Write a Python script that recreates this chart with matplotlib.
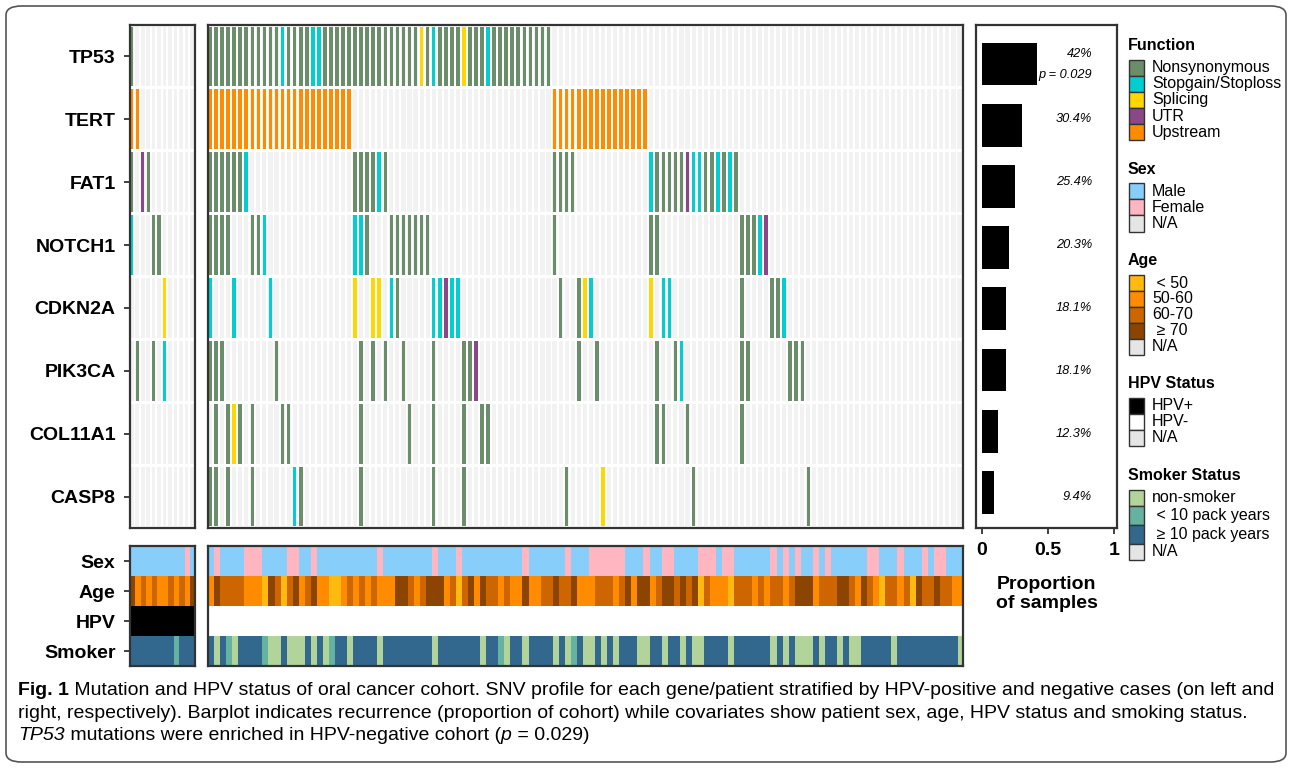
import numpy as np
import matplotlib.pyplot as plt
import matplotlib.transforms as mtransforms
from matplotlib.patches import FancyBboxPatch, Rectangle
from matplotlib.colors import to_rgb

plt.rcParams['font.family'] = ['Liberation Sans', 'DejaVu Sans']

genes = ["TP53", "TERT", "FAT1", "NOTCH1", "CDKN2A", "PIK3CA", "COL11A1", "CASP8"]
proportion = [0.42, 0.304, 0.254, 0.203, 0.181, 0.181, 0.123, 0.094]
prop_text = ["42%\np = 0.029", "30.4%", "25.4%", "20.3%", "18.1%", "18.1%", "12.3%", "9.4%"]

# mutation codes: N nonsynonymous, S stopgain/stoploss, P splicing, R UTR, U upstream, . none
hpv_pos_mut = [
    "N...........",
    "UU..........",
    "N.RN........",
    "S...NN......",
    "......P.....",
    ".N..N.S.....",
    "............",
    "............",
]
hpv_neg_mut = [
    "NNNNNNNNNN NNSNNNNSSN NNNNNNNNNN NNNNNPNSNN NNPNNNSNNN NNNNNNN",
    "UUUUUUUUUU UUUUUUUUUU UUUU...... .......... .......... .......UUU UUUUUUUUUU UUU",
    "NNNNNNS... .......... ....NNNNSN .......... .......... .......NNN N......... ...SNNNNNR SSNNSNSN",
    "NNNN...NNS .......... ....SSN... NNNNNNN... .......... .......N.. .......... ...NN..... ........NN NSR",
    "S...S..... S......... ....P..PP. SN.....SSR SS........ ........N. .NPS...... ...P.SS... ........N. ...NNS",
    "NNN....... .N........ .....N.N.N ..N....N.. ..NNR..... .......... .N..N..... ....N..NS. ........NN ......NNN",
    ".N.NPN.N.. ..NN...... .....N.... ...N...N.. ..N..NN... .......... .......... ....NN...N ........N",
    "NN.N...N.. ....SN.... .....N.... .......N.. ..N....... .........N .....P.... .......... N......... .........N",
]

# covariates: sex M/F, age 1:<50 2:50-60 3:60-70 4:>=70, smoker N non / L <10 / H >=10 pack years
sex_pos = "MMMMMMMMMMFM"
age_pos = "423232232324"
smoke_pos = "HHHHHHHHLHHH"
sex_neg = ("MFMMMMFFFM MMMFFMMFMM MMMMMMMMFM MMMMMMMFMM MFMMMMMMMM MMFMMMMMMF "
           "MMMFFFFFFM MMFMMFFMMM MFFFMFFMMM MMMFMFMFMM FMFMMMMMMF FMMMFMMMFM FFMMM")
age_neg = ("2433332221 4313423422 1123232322 2443234442 3134243323 2242233433 "
           "4222333234 2442344343 4132221333 2323323444 2333443243 2133231433 43322")
smoke_neg = ("HNHLNHHHHL NNHNNNHNHN LHHNHHHHNH HHHHHHHNHH HHHHHNHHLN HHNHHHHNHN "
             "LHNNHNHNHH HNNHHNHHNH NNHHHHNHHH HHHNHNHNNN HNHHNHNNHH HHHNHHHHHH HHHHN")

func_codes = ["N", "S", "P", "R", "U"]
func_labels = ["Nonsynonymous", "Stopgain/Stoploss", "Splicing", "UTR", "Upstream"]
func_colors = ["#6b8e6a", "#00ced1", "#ffd700", "#8b4789", "#ff8c00"]
sex_labels = ["Male", "Female", "N/A"]
sex_colors = ["#87cefa", "#ffb6c1", "#e5e5e5"]
age_labels = [" < 50", "50-60", "60-70", " \u2265 70", "N/A"]
age_colors = ["#ffb90f", "#ff8c00", "#cd6600", "#8b4500", "#e5e5e5"]
hpv_labels = ["HPV+", "HPV-", "N/A"]
hpv_colors = ["#000000", "#ffffff", "#e5e5e5"]
smoke_labels = ["non-smoker", " < 10 pack years", " \u2265 10 pack years", "N/A"]
smoke_colors = ["#b2d49b", "#64b29f", "#33688e", "#e5e5e5"]

hpv_neg_mut = ["".join(s.split()) for s in hpv_neg_mut]
sex_neg, age_neg, smoke_neg = ["".join(s.split()) for s in (sex_neg, age_neg, smoke_neg)]
n_neg = len(sex_neg)
hpv_neg_mut = [s.ljust(n_neg, ".") for s in hpv_neg_mut]

W, H = 1292, 768
fig = plt.figure(figsize=(W / 100, H / 100), dpi=100)
frame_col = "#333333"


def px_axes(x0, y0, x1, y1):
    return fig.add_axes([x0 / W, 1 - y1 / H, (x1 - x0) / W, (y1 - y0) / H])


def style_frame(ax):
    for s in ax.spines.values():
        s.set_color(frame_col)
        s.set_linewidth(1.6)


def draw_grid(ax, rows):
    n = len(rows[0])
    for r, row in enumerate(rows):
        ax.bar(np.arange(n), 0.95, bottom=r + 0.025, width=0.68, color="#f2f2f2", linewidth=0)
        for code, col in zip(func_codes, func_colors):
            idx = [i for i, c in enumerate(row) if c == code]
            if idx:
                ax.bar(idx, 0.95, bottom=r + 0.025, width=0.6, color=col, linewidth=0)
    ax.set_xlim(-0.42, n - 0.42)
    ax.set_ylim(len(rows), 0)
    ax.set_xticks([])
    style_frame(ax)


def draw_annot(ax, sex, age, hpv, smoke):
    n = len(sex)
    sex_map = dict(zip("MF", sex_colors))
    age_map = dict(zip("1234", age_colors))
    smoke_map = dict(zip("NLH", smoke_colors))
    img = np.array([[to_rgb(sex_map[c]) for c in sex],
                    [to_rgb(age_map[c]) for c in age],
                    [to_rgb(hpv) for _ in range(n)],
                    [to_rgb(smoke_map[c]) for c in smoke]])
    ax.imshow(img, aspect="auto", interpolation="nearest", extent=(-0.42, n - 0.42, 4, 0))
    ax.set_xlim(-0.42, n - 0.42)
    ax.set_ylim(4, 0)
    ax.set_xticks([])
    style_frame(ax)


# mutation panels
ax_pos = px_axes(129.5, 25, 195, 528)
draw_grid(ax_pos, hpv_pos_mut)
ax_pos.set_yticks(np.arange(len(genes)) + 0.5, genes, fontsize=14, fontweight="bold")
ax_pos.tick_params(axis="y", length=4, width=1.3, pad=6, color=frame_col)

ax_neg = px_axes(207.5, 25, 963, 528)
draw_grid(ax_neg, hpv_neg_mut)
ax_neg.set_yticks([])

# covariate panels
annot_names = ["Sex", "Age", "HPV", "Smoker"]
ax_apos = px_axes(129.5, 546, 195, 666)
draw_annot(ax_apos, sex_pos, age_pos, hpv_colors[0], smoke_pos)
ax_apos.set_yticks(np.arange(4) + 0.5, annot_names, fontsize=14, fontweight="bold")
ax_apos.tick_params(axis="y", length=4, width=1.3, pad=6, color=frame_col)

ax_aneg = px_axes(207.5, 546, 963, 666)
draw_annot(ax_aneg, sex_neg, age_neg, hpv_colors[1], smoke_neg)
ax_aneg.set_yticks([])

# recurrence barplot
ax_bar = px_axes(976, 25, 1117, 528)
ax_bar.barh(np.arange(len(genes)) + 0.5, proportion, height=0.7, color="black")
ax_bar.set_xlim(-0.045, 1.023)
ax_bar.set_ylim(8.08, -0.137)
ax_bar.set_yticks([])
ax_bar.set_xticks([0, 0.5, 1], ["0", "0.5", "1"], fontsize=14, fontweight="bold")
ax_bar.tick_params(axis="x", length=4, width=1.3, pad=6, color=frame_col)
ax_bar.set_xlabel("Proportion\nof samples", fontsize=14, fontweight="bold", labelpad=12)
style_frame(ax_bar)
trans = mtransforms.blended_transform_factory(ax_bar.transData, ax_pos.transData)
for i, t in enumerate(prop_text):
    ax_bar.text(0.835, i + 0.5 + (0.13 if "\n" in t else 0), t, transform=trans, ha="right",
                multialignment="right", va="center", fontsize=9.2, style="italic",
                linespacing=1.95)

# legends
ax_leg = px_axes(1120, 25, 1290, 570)
ax_leg.set_xlim(1120, 1290)
ax_leg.set_ylim(570, 25)
ax_leg.axis("off")


def legend_block(title, labels, colors, y_title, y_boxes):
    ax_leg.text(1128, y_title, title, fontsize=11.5, fontweight="bold", va="center")
    for lab, col, (y0, y1) in zip(labels, colors, zip(y_boxes[:-1], y_boxes[1:])):
        ax_leg.add_patch(Rectangle((1129, y0), 15, y1 - y0, facecolor=col, edgecolor=frame_col, lw=1))
        ax_leg.text(1152, (y0 + y1) / 2, lab, fontsize=11.5, va="center")


legend_block("Function", func_labels, func_colors, 45, [59.5, 75.7, 91.7, 108, 124.3, 140])
legend_block("Sex", sex_labels, sex_colors, 169, [183, 199, 215, 231.5])
legend_block("Age", age_labels, age_colors, 261, [275, 291, 306.7, 322.5, 338.5, 355])
legend_block("HPV Status", hpv_labels, hpv_colors, 384, [398, 414, 430, 446])
legend_block("Smoker Status", smoke_labels, smoke_colors, 475, [490, 506, 525, 544, 560])

# outer border and caption
fig.patches.append(FancyBboxPatch((6 / W, 6 / H), (W - 12) / W, (H - 12) / H,
                                  boxstyle="round,pad=0,rounding_size=0.012",
                                  transform=fig.transFigure, facecolor="none",
                                  edgecolor="#555555", lw=1.2))
caption = [
    [("Fig. 1", "normal", "bold"),
     (" Mutation and HPV status of oral cancer cohort. SNV profile for each gene/patient stratified by HPV-positive and negative cases (on left and", "normal", "normal")],
    [("right, respectively). Barplot indicates recurrence (proportion of cohort) while covariates show patient sex, age, HPV status and smoking status.", "normal", "normal")],
    [("TP53", "italic", "normal"), (" mutations were enriched in HPV-negative cohort (", "normal", "normal"),
     ("p", "italic", "normal"), (" = 0.029)", "normal", "normal")],
]
renderer = fig.canvas.get_renderer()
for k, pieces in enumerate(caption):
    x = 18
    for txt, st, wt in pieces:
        t = fig.text(x / W, 1 - (695 + 22.5 * k) / H, txt, fontsize=14.0, style=st,
                     fontweight=wt, va="baseline", ha="left")
        x = t.get_window_extent(renderer).x1

fig.savefig("out.png", dpi=100)
